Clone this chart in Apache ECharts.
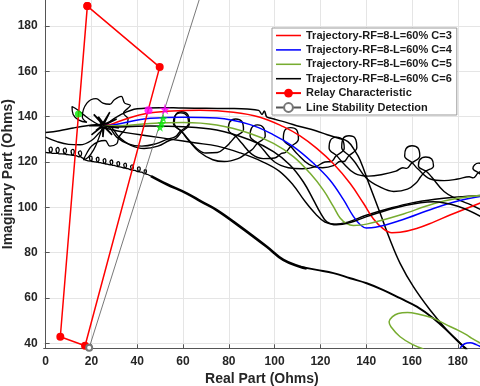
<!DOCTYPE html>
<html>
<head>
<meta charset="utf-8">
<script src="https://cdn.jsdelivr.net/npm/echarts@6.0.0/dist/echarts.min.js"></script>
<style>
  html, body { margin: 0; padding: 0; background: #fff; }
  #chart { width: 480px; height: 386px; }
</style>
</head>
<body>
<div id="chart"></div>
<script>
// tick labels
const xTicks = [0, 20, 40, 60, 80, 100, 120, 140, 160, 180];
const yTicks = [40, 60, 80, 100, 120, 140, 160, 180];

const legendNames = [
  "Trajectory-RF=8-L=60% C=3",
  "Trajectory-RF=8-L=60% C=4",
  "Trajectory-RF=8-L=60% C=5",
  "Trajectory-RF=8-L=60% C=6",
  "Relay Characteristic",
  "Line Stability Detection"
];

// relay polygon and stability line
const relayPts = [[18.2, 188.8], [49.8, 161.9], [17.2, 38.9], [6.4, 42.9], [18.2, 188.8]];
const stabilityPts = [[19, 38], [70, 201]];

// trajectories (real, imag)
const trajC3 = [[25, 136], [28.1, 136.5], [35, 139], [44.9, 141.6], [52.9, 142.4], [67.4, 142.8], [82, 142], [93.6, 139.8], [103.8, 135.6], [111.1, 131.5], [118.4, 126], [125.7, 119.2], [133, 110.5], [138.8, 101.8], [143.1, 95], [147.5, 90.5], [151.2, 88.8], [154.8, 89], [162, 90.7], [169.4, 93.5], [176.6, 96.6], [190, 102]];
const trajC4 = [[25, 136], [30, 136.5], [45.6, 139.3], [60.1, 139.8], [74.7, 139.4], [89.3, 136.5], [99.5, 132], [108.2, 126.8], [117, 119.4], [124.2, 112], [130, 103.5], [134.4, 96], [137.5, 92.2], [140, 90.9], [144, 91.2], [154.8, 94.2], [169.4, 99.5], [180.9, 103], [190, 104.8]];
const trajC5 = [[25, 136], [30, 136], [45.6, 137], [60.1, 137.4], [74.7, 136.3], [89.3, 132.6], [99.5, 128.2], [108.2, 122.4], [115.5, 115], [121.3, 107.6], [125.7, 100.3], [128.6, 95.3], [131.5, 92.8], [134.4, 92], [140.2, 92.6], [154.8, 96.6], [169.4, 101.6], [180, 104], [190, 105.2]];
const trajC5b = [[190, 40], [186, 42.3], [183.9, 43.7], [180, 45.8], [176.6, 47.4], [172, 49.8], [169.4, 51], [163, 52.8], [158, 53.6], [154, 53.2], [151.5, 51.8], [150, 49.5], [150.8, 47.3], [154.8, 42.9], [160.6, 39.3], [165, 37.5]];
const trajC4b = [[181, 37.9], [183, 39.8], [185.5, 40.3], [188, 39.4], [190, 38.5]];
const trajC6 = [[25, 136], [30, 135.5], [45.6, 135.9], [60.1, 135.6], [74.7, 134.1], [89.3, 129.7], [99.5, 124.6], [106.7, 118.7], [112.5, 111.3], [117, 103.2], [120, 97.6], [122.8, 93.6], [127, 92.3], [133, 93.3], [140.2, 95.9], [154.8, 100.3], [169.4, 102.5], [180, 100.5], [190, 96]];

// other black traces
const traceTop = [[27, 137], [33, 141], [40, 143.5], [50, 144], [60, 143.8], [70, 143.7], [80, 143.6], [88, 143.4], [93, 142.8], [94.5, 141], [95.5, 142.5], [96.5, 140], [98, 139.4], [105, 137.5], [111, 135.7], [118, 133.8], [123, 132], [128, 130.5], [132, 129], [135, 125], [137.3, 120.9], [141.7, 109.1], [146.1, 97.4], [150.4, 85.7], [154.8, 75.3], [160.6, 65], [167.9, 54.7], [175.2, 45.9], [181, 40], [184, 37.5]];
const traceLow = [[26, 135], [35, 133], [45, 131.5], [55, 130], [65, 128.5], [75, 127], [85, 124], [95, 120], [102, 116], [108, 110], [113, 103], [118, 97], [122, 93.5], [126, 92.6], [132, 93.5], [140, 96.5], [150, 99.5], [160, 102], [170, 103.6], [180, 104.6], [190, 105.3]];
const loopsA = [[0, 133], [6, 133.8], [12, 135], [18, 136], [24, 136.6], [28, 136], [32, 131], [37, 127.5], [43, 126], [49, 127], [54, 129.5],
  [57, 130.5], [59.1, 133], [62.8, 137], [62, 141], [59.4, 142.2], [56.9, 141], [56.2, 137], [59.7, 133.1], [62, 130],
  [67, 124.5], [73, 121], [78, 120.2], [84, 121.5], [88, 124],
  [90.2, 125.5], [92.2, 128], [95.9, 131.5], [95.1, 135.2], [92.5, 136.4], [89.9, 135], [89.3, 131.5], [92.8, 128.1], [95, 125.5],
  [100, 120], [106, 117.5], [112, 117], [118, 118], [122, 120],
  [124.7, 120.2], [126.7, 122.5], [130.4, 126.1], [129.6, 129.9], [127, 131], [124.4, 129.6], [123.8, 126.1], [127.3, 122.6], [129.5, 120],
  [135, 115], [141, 113.8], [147, 114.5], [153, 116], [156, 117.5],
  [157.7, 117.2], [159.7, 119.4], [163.4, 122.7], [162.6, 126.2], [160, 127.2], [157.4, 125.9], [156.8, 122.7], [160.3, 119.5], [162.5, 117],
  [168, 112.5], [174, 111.8], [180, 112.5], [185, 113.5],
  [186.7, 113], [188.7, 115], [191.3, 117.3], [190.6, 119], [189, 119.5], [187.4, 118.8], [186.6, 117.3], [189.3, 115.1], [192, 113]];
const loopsB = [[0, 131], [5, 129], [10, 127.8], [15, 127.6], [20, 129.5], [24, 133.5], [27, 135.5], [31, 131], [36, 128], [42, 127], [48, 128], [53, 130],
  [56.7, 131.2], [58.7, 133.5], [62.4, 137], [61.6, 140.6], [59, 141.7], [56.4, 140.3], [55.8, 137], [59.3, 133.6], [61.5, 131],
  [66, 126], [70, 124], [75, 124.2], [78.5, 126.5],
  [80.7, 128.7], [82.7, 131], [86.4, 134.4], [85.6, 138], [83, 139], [80.4, 137.7], [79.8, 134.4], [83.3, 131.1], [85.5, 128.5],
  [90, 123.5], [95, 121.5], [100, 121.8], [103, 123.8],
  [104.7, 124.2], [106.7, 126.5], [110.4, 130.2], [109.6, 134.2], [107, 135.2], [104.4, 133.9], [103.8, 130.2], [107.3, 126.6], [109.5, 124],
  [115, 119], [121, 117.5], [126, 118.5], [128.5, 120.2],
  [130.2, 120.2], [132.2, 122.5], [135.9, 126.4], [135.1, 130.6], [132.5, 131.6], [129.9, 130.3], [129.3, 126.4], [132.8, 122.6], [135, 120],
  [140, 113], [146, 109], [152, 107], [158, 108], [162, 111],
  [163.7, 113.4], [165.7, 115.7], [169.4, 118.3], [168.6, 121.3], [166, 122.2], [163.4, 121], [162.8, 118.3], [166.3, 115.8], [168.5, 113.5],
  [174, 107], [180, 103.5], [186, 101], [191, 98.5]];
const curlTrace = [[0, 124.3], [1, 124.1], [2, 124], [2.9, 125.6], [2.3, 126.6], [1.5, 125.8], [2.6, 123.9], [3.6, 123.8], [5, 123.8], [5.9, 125.4], [5.3, 126.4], [4.5, 125.6], [5.6, 123.7], [6.6, 123.6], [8.2, 123.5], [9.1, 125.1], [8.5, 126.1], [7.7, 125.3], [8.8, 123.4], [9.8, 123.3], [11.6, 123], [12.5, 124.6], [11.9, 125.6], [11.1, 124.8], [12.2, 122.9], [13.2, 122.8], [14.8, 122.3], [15.7, 123.9], [15.1, 124.9], [14.3, 124.1], [15.4, 122.2], [16.4, 121.6], [17.5, 120.8], [19.5, 120.4], [20.3, 121.7], [19.8, 122.6], [19.1, 121.9], [20, 120.3], [20.9, 120.2], [22.5, 119.9], [23.3, 121.2], [22.8, 122.1], [22.1, 121.4], [23, 119.8], [23.9, 119.7], [25.5, 119.3], [26.3, 120.6], [25.8, 121.5], [25.1, 120.8], [26, 119.2], [26.9, 119.1], [28.5, 118.7], [29.3, 120], [28.8, 120.9], [28.1, 120.2], [29, 118.6], [29.9, 118.5], [31.5, 118], [32.3, 119.3], [31.8, 120.2], [31.1, 119.5], [32, 117.9], [32.9, 117.8], [34.5, 117.3], [35.3, 118.6], [34.8, 119.5], [34.1, 118.8], [35, 117.2], [35.9, 117.1], [37.5, 116.5], [38.3, 117.8], [37.8, 118.7], [37.1, 118], [38, 116.4], [38.9, 116.3], [40.5, 115.7], [41.3, 117], [40.8, 117.9], [40.1, 117.2], [41, 115.6], [41.9, 115.5], [43.3, 114.8], [44, 115.9], [43.6, 116.6], [43, 116], [43.8, 114.7], [44.6, 114.5], [46, 113.8]];
const fuzzTrace = [[46, 113.8], [52.9, 110.2], [61.6, 106.2], [68, 102.5], [74.7, 98.8], [84.9, 91.5], [96.6, 82.6], [103.8, 76.8], [111.1, 73.8], [114, 73]];
const tailTrace = [[111.1, 73.8], [118.4, 72.4], [125.7, 71], [133, 68.7], [140.2, 66.5], [147.5, 63.5], [154.8, 59.9], [162.1, 56.2], [169.4, 51], [176.6, 44.4], [182.5, 38.5], [185, 36]];
const flower = [[24, 136], [19, 139], [14, 143], [11.5, 144.5], [12, 141], [14.5, 138.5], [18, 137.5], [16, 140], [18, 146], [22, 148], [25, 146], [28, 145.5], [30, 147.5], [33, 149], [34.5, 146], [37, 145], [34, 141.5], [36, 139], [35, 135], [32, 131], [31, 128], [28, 127], [26, 129.5], [23, 129], [20, 127], [18, 124], [16.5, 121], [18.5, 122], [21, 125.5], [23, 130], [25, 136]];
const starBurst = [[25, 136.5], [31, 139], [25, 136], [28, 142], [25, 137], [21, 141], [25, 136.5], [19, 136], [25, 136], [20, 132], [25.5, 136.5], [25, 131], [25, 136], [29, 132], [25, 136.5], [32, 135], [24.5, 136], [23, 140], [26, 136], [22, 134], [26, 137]];

// markers
const magentaDots = [[44.9, 142.9]];
const magentaStars = [[52.1, 143.4]];
const greenStars = [[51.4, 139.3], [50.7, 137.1], [50, 135.3]];
const greenDots = [[14.3, 141.2]];

const starPath = "path://M50,0 L61,35 98,35 68,57 79,91 50,70 21,91 32,57 2,35 39,35 Z";
const lineIcon = "path://M0,0H26V1.6H0Z";
const font = "Liberation Sans, Arial, sans-serif";

const chart = echarts.init(document.getElementById("chart"));

const blackLine = (data, width) => ({
  type: "line",
  data: data,
  symbol: "none",
  smooth: 0.4,
  silent: true,
  lineStyle: { color: "#000", width: width || 1.4 },
  z: 2
});

const option = {
  animation: false,
  grid: { left: 43.7, right: 0, top: 0, bottom: 37.7, outerBoundsMode: "none" },
  legend: {
    data: [
      { name: legendNames[0], icon: lineIcon },
      { name: legendNames[1], icon: lineIcon },
      { name: legendNames[2], icon: lineIcon },
      { name: legendNames[3], icon: lineIcon },
      { name: legendNames[4] },
      { name: legendNames[5] }
    ],
    orient: "vertical",
    left: 272,
    top: 28,
    padding: [2, 5, 2, 3],
    itemGap: 3.4,
    itemWidth: 25,
    itemHeight: 11,
    backgroundColor: "#fff",
    borderColor: "#999",
    borderWidth: 1,
    textStyle: { fontFamily: font, fontWeight: "bold", fontSize: 11, color: "#1a1a1a" }
  },
  xAxis: {
    type: "value",
    min: -0.86,
    max: 189.7,
    name: "Real Part (Ohms)",
    nameLocation: "middle",
    nameGap: 24,
    nameMoveOverlap: false,
    nameTextStyle: { fontFamily: font, fontWeight: "bold", fontSize: 14, color: "#262626" },
    axisLine: { show: true, lineStyle: { color: "#555", width: 1 } },
    axisTick: { show: true, inside: true, length: 4, customValues: xTicks, lineStyle: { color: "#555" } },
    axisLabel: { customValues: xTicks, margin: 7, fontFamily: font, fontWeight: "bold", fontSize: 12, color: "#262626" },
    splitLine: { show: true, lineStyle: { color: "#e5e5e5", width: 1 } }
  },
  yAxis: {
    type: "value",
    min: 37.8,
    max: 191.5,
    name: "Imaginary Part (Ohms)",
    nameLocation: "middle",
    nameGap: 29,
    nameMoveOverlap: false,
    nameTextStyle: { fontFamily: font, fontWeight: "bold", fontSize: 14, color: "#262626" },
    axisLine: { show: true, lineStyle: { color: "#555", width: 1 } },
    axisTick: { show: true, inside: true, length: 4, customValues: yTicks, lineStyle: { color: "#555" } },
    axisLabel: { customValues: yTicks, margin: 6, fontFamily: font, fontWeight: "bold", fontSize: 12, color: "#262626" },
    splitLine: { show: true, lineStyle: { color: "#e5e5e5", width: 1 } }
  },
  series: [
    blackLine(loopsA),
    blackLine(loopsB),
    blackLine(traceLow),
    blackLine(traceTop, 1.5),
    blackLine(curlTrace, 1.3),
    blackLine(fuzzTrace, 2.6),
    blackLine(tailTrace, 1.9),
    blackLine(flower, 1.3),
    Object.assign(blackLine(starBurst, 1.6), { smooth: false }),
    {
      name: legendNames[0], type: "line", data: trajC3, symbol: "none", smooth: 0.4,
      lineStyle: { color: "#ff0000", width: 1.5 }, itemStyle: { color: "#ff0000" }, z: 3
    },
    {
      name: legendNames[1], type: "line", data: trajC4, symbol: "none", smooth: 0.4,
      lineStyle: { color: "#0000ff", width: 1.5 }, itemStyle: { color: "#0000ff" }, z: 3
    },
    {
      type: "line", data: trajC4b, symbol: "none", smooth: 0.4,
      lineStyle: { color: "#0000ff", width: 1.5 }, z: 3
    },
    {
      name: legendNames[2], type: "line", data: trajC5, symbol: "none", smooth: 0.4,
      lineStyle: { color: "#77ac30", width: 1.5 }, itemStyle: { color: "#77ac30" }, z: 3
    },
    {
      type: "line", data: trajC5b, symbol: "none", smooth: 0.4,
      lineStyle: { color: "#77ac30", width: 1.5 }, z: 3
    },
    {
      name: legendNames[3], type: "line", data: trajC6, symbol: "none", smooth: 0.4,
      lineStyle: { color: "#000", width: 1.5 }, itemStyle: { color: "#000" }, z: 3
    },
    {
      name: legendNames[4], type: "line", data: relayPts, symbol: "circle", symbolSize: 8,
      lineStyle: { color: "#ff0000", width: 1.5 }, itemStyle: { color: "#ff0000" }, z: 4
    },
    {
      name: legendNames[5], type: "line", data: stabilityPts, symbol: "emptyCircle", symbolSize: 6,
      lineStyle: { color: "#555", width: 0.8 }, itemStyle: { color: "#777", borderWidth: 1 }, z: 4
    },
    { type: "scatter", data: magentaDots, symbol: "circle", symbolSize: 8, itemStyle: { color: "#ff00ff" }, z: 5 },
    { type: "scatter", data: magentaStars, symbol: starPath, symbolSize: 11, itemStyle: { color: "#ff00ff" }, z: 5 },
    { type: "scatter", data: greenStars, symbol: starPath, symbolSize: 9, itemStyle: { color: "#00ee00" }, z: 5 },
    { type: "scatter", data: greenDots, symbol: "circle", symbolSize: 7, itemStyle: { color: "#00ee00" }, z: 5 }
  ]
};

chart.setOption(option);
</script>
</body>
</html>
